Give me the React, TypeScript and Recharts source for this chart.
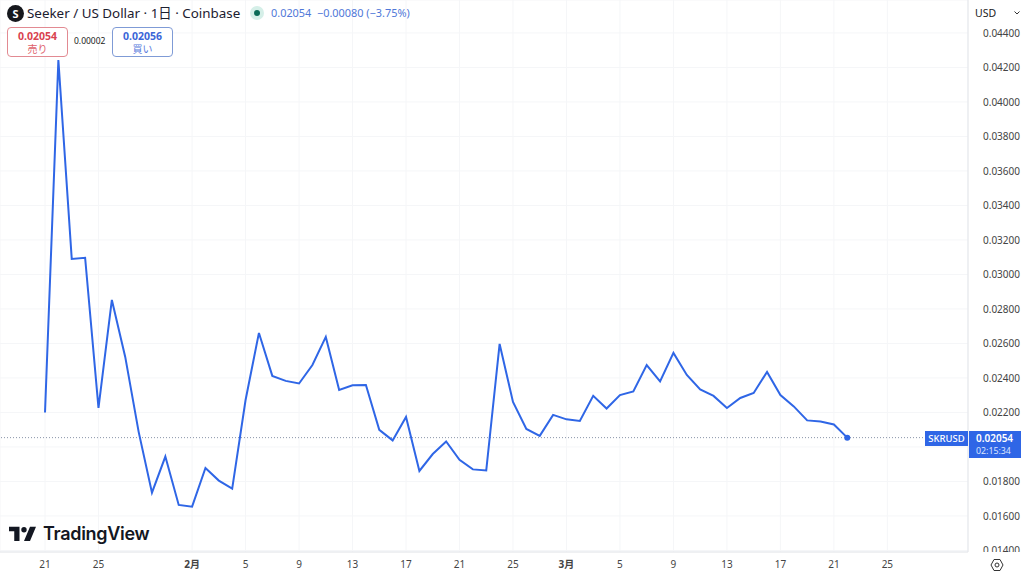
import React from "react";
import {
  LineChart,
  Line,
  XAxis,
  YAxis,
  CartesianGrid,
  ReferenceLine,
  ReferenceDot,
} from "recharts";

// daily close, SKR/USD, 21 Jan to 22 Mar
const closes = [
  0.022, 0.04243, 0.0309, 0.03097, 0.02226, 0.02852, 0.02522, 0.02089, 0.01735,
  0.01944, 0.01664, 0.01654, 0.01878, 0.01805, 0.01758, 0.02272, 0.02661,
  0.02412, 0.02383, 0.02368, 0.02475, 0.02638, 0.0233, 0.02357, 0.02359,
  0.02099, 0.02038, 0.02174, 0.01861, 0.01959, 0.02032, 0.01925, 0.0187,
  0.01864, 0.02597, 0.02261, 0.02104, 0.02064, 0.02186, 0.0216, 0.02151,
  0.02296, 0.02223, 0.02301, 0.02322, 0.02475, 0.0238, 0.02545, 0.02417,
  0.02333, 0.02296, 0.02226, 0.02284, 0.02313, 0.02435, 0.02301, 0.02235,
  0.02154, 0.02148, 0.0213, 0.02054,
];
const xTickDays = [0, 4, 11, 15, 19, 23, 27, 31, 35, 39, 43, 47, 51, 55, 59, 63];
const xTickLabels = ["21", "25", "2月", "5", "9", "13", "17", "21", "25", "3月", "5", "9", "13", "17", "21", "25"];
const yTicks = [
  0.014, 0.016, 0.018, 0.02, 0.022, 0.024, 0.026, 0.028, 0.03, 0.032, 0.034,
  0.036, 0.038, 0.04, 0.042, 0.044,
];
const lastPrice = 0.02054;

const chartData = closes.map((close, i) => ({ day: i, close }));

const BLUE = "#2f66e6";
const FONT = "'Noto Sans', 'Noto Sans CJK JP', sans-serif";

const XTick = (props: any) => {
  const { x, y, payload } = props;
  const label = xTickLabels[xTickDays.indexOf(payload.value)];
  const bold = label.includes("月");
  return (
    <text
      x={x}
      y={y + 8}
      textAnchor="middle"
      fontSize={10}
      fontFamily={FONT}
      fontWeight={bold ? 700 : 400}
      fill="#444"
    >
      {label}
    </text>
  );
};

const YTick = (props: any) => {
  const { x, y, payload } = props;
  return (
    <text
      x={x + 7}
      y={y + 4}
      fontSize={10}
      fontFamily={FONT}
      fill="#444"
      clipPath="url(#axisClip)"
    >
      {payload.value.toFixed(5)}
    </text>
  );
};

const App = () => {
  return (
    <div
      style={{
        position: "absolute",
        left: 0,
        top: 0,
        width: 1024,
        height: 577,
        background: "#fff",
        overflow: "hidden",
        fontFamily: FONT,
      }}
    >
      <LineChart
        width={1024}
        height={577}
        data={chartData}
        margin={{ top: 0, right: 0, left: 0, bottom: 0 }}
      >
        <defs>
          <clipPath id="axisClip">
            <rect x={969} y={0} width={55} height={552} />
          </clipPath>
        </defs>
        <CartesianGrid stroke="#f5f6f8" strokeWidth={1} />
        <XAxis
          dataKey="day"
          type="number"
          domain={[-3.366, 69.03]}
          ticks={xTickDays}
          interval={0}
          allowDataOverflow
          height={25}
          stroke="#e3e5ea"
          tickLine={false}
          tick={<XTick />}
        />
        <YAxis
          orientation="right"
          type="number"
          domain={[0.01391, 0.04591]}
          ticks={yTicks}
          interval={0}
          allowDataOverflow
          width={56}
          stroke="#e3e5ea"
          tickLine={false}
          tick={<YTick />}
        />
        <ReferenceLine
          y={lastPrice}
          stroke="#8a94a8"
          strokeWidth={1}
          strokeDasharray="1 2"
        />
        <Line
          dataKey="close"
          type="linear"
          stroke={BLUE}
          strokeWidth={2}
          dot={false}
          activeDot={false}
          isAnimationActive={false}
        />
        <ReferenceDot
          x={60}
          y={lastPrice}
          r={3}
          fill={BLUE}
          stroke={BLUE}
          strokeWidth={0}
        />
      </LineChart>

      {/* header */}
      <div
        style={{
          position: "absolute",
          left: 7,
          top: 5,
          width: 17,
          height: 17,
          borderRadius: 9,
          background: "#16181d",
          color: "#fff",
          fontSize: 11,
          fontWeight: 700,
          lineHeight: "17px",
          textAlign: "center",
        }}
      >
        S
      </div>
      <div
        style={{
          position: "absolute",
          left: 27,
          top: 3,
          fontSize: 13.4,
          lineHeight: "20px",
          color: "#1c2030",
          whiteSpace: "nowrap",
        }}
      >
        Seeker / US Dollar · 1日 · Coinbase
      </div>
      <div
        style={{
          position: "absolute",
          left: 250,
          top: 6,
          width: 14,
          height: 14,
          borderRadius: 7,
          background: "#d5efe8",
        }}
      />
      <div
        style={{
          position: "absolute",
          left: 254,
          top: 10,
          width: 6,
          height: 6,
          borderRadius: 3,
          background: "#0b6b57",
        }}
      />
      <div
        style={{
          position: "absolute",
          left: 271,
          top: 5,
          fontSize: 10.9,
          lineHeight: "16px",
          color: "#4f78d8",
          whiteSpace: "pre",
        }}
      >
        {"0.02054  −0.00080 (−3.75%)"}
      </div>

      {/* sell / buy */}
      <div
        style={{
          position: "absolute",
          left: 7,
          top: 27,
          width: 59,
          height: 28,
          border: "1px solid #e28a92",
          borderRadius: 4,
          background: "#fff",
          textAlign: "center",
          color: "#d9434f",
        }}
      >
        <div style={{ fontSize: 10.5, fontWeight: 700, lineHeight: "14px", marginTop: 1 }}>0.02054</div>
        <div style={{ fontSize: 10, lineHeight: "12px", opacity: 0.85 }}>売り</div>
      </div>
      <div
        style={{
          position: "absolute",
          left: 74,
          top: 35,
          fontSize: 8.5,
          lineHeight: "12px",
          color: "#222",
        }}
      >
        0.00002
      </div>
      <div
        style={{
          position: "absolute",
          left: 112,
          top: 27,
          width: 59,
          height: 28,
          border: "1px solid #7f9bd6",
          borderRadius: 4,
          background: "#fff",
          textAlign: "center",
          color: "#3b66d8",
        }}
      >
        <div style={{ fontSize: 10.5, fontWeight: 700, lineHeight: "14px", marginTop: 1 }}>0.02056</div>
        <div style={{ fontSize: 10, lineHeight: "12px", opacity: 0.85 }}>買い</div>
      </div>

      {/* currency select */}
      <div
        style={{
          position: "absolute",
          left: 975,
          top: 6,
          fontSize: 10.5,
          lineHeight: "14px",
          color: "#222",
        }}
      >
        USD
      </div>
      <svg style={{ position: "absolute", left: 1013, top: 10 }} width={8} height={6}>
        <path d="M1.5 1.5 L4 4 L6.5 1.5" fill="none" stroke="#333" strokeWidth={1} />
      </svg>

      {/* last price tags */}
      <div
        style={{
          position: "absolute",
          left: 925,
          top: 431,
          width: 43,
          height: 15,
          background: BLUE,
          color: "#fff",
          fontSize: 9.5,
          fontWeight: 500,
          lineHeight: "15px",
          textAlign: "center",
        }}
      >
        SKRUSD
      </div>
      <div
        style={{
          position: "absolute",
          left: 969,
          top: 431,
          width: 52,
          height: 27,
          background: BLUE,
          color: "#fff",
          paddingLeft: 7,
          boxSizing: "border-box",
        }}
      >
        <div style={{ fontSize: 10, fontWeight: 600, lineHeight: "12px", marginTop: 1, height: 12 }}>0.02054</div>
        <div style={{ fontSize: 8.8, lineHeight: "12px", height: 12, marginTop: 1, color: "#dbe5ff" }}>02:15:34</div>
      </div>

      {/* TradingView mark */}
      <svg style={{ position: "absolute", left: 9, top: 525 }} width={27} height={17} viewBox="0 0 36 22">
        <path d="M14 21H7V8H0V2h14v19zM28 21h-8L28 2h8L28 21z" fill="#131722" />
        <circle cx={20} cy={6} r={3.6} fill="#131722" />
      </svg>
      <div
        style={{
          position: "absolute",
          left: 43,
          top: 521,
          fontSize: 18,
          fontWeight: 600,
          lineHeight: "26px",
          color: "#131722",
          fontFamily: "Inter, Roboto, sans-serif",
          letterSpacing: -0.3,
        }}
      >
        TradingView
      </div>

      {/* settings icon */}
      <svg style={{ position: "absolute", left: 990, top: 558 }} width={14} height={14} viewBox="0 0 14 14">
        <path d="M4 1.5h6L13 7l-3 5.5H4L1 7z" fill="none" stroke="#333" strokeWidth={1} />
        <circle cx={7} cy={7} r={2} fill="none" stroke="#333" strokeWidth={1} />
      </svg>
    </div>
  );
};

export default App;
